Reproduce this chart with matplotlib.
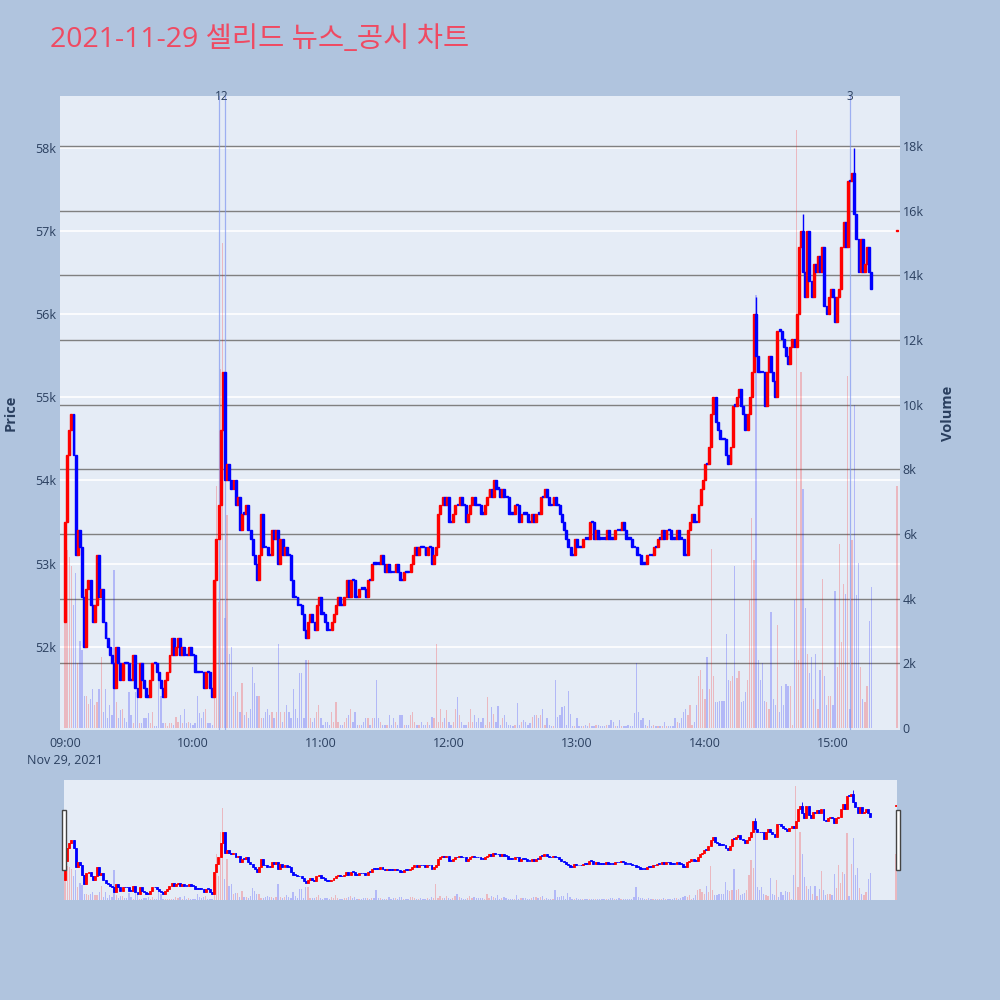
import matplotlib.pyplot as plt
import matplotlib.transforms as mtransforms
from matplotlib.patches import Rectangle
import numpy as np

plt.rcParams['font.family'] = ['Open Sans', 'Noto Sans CJK KR', 'DejaVu Sans']

# ---- data (1-minute candles from 09:00) ----
first_open = 52300
closes = [
    53500, 54300, 54600, 54800, 54300, 53100, 53400, 53200, 52600, 52000,
    52700, 52800, 52500, 52300, 52500, 53100, 52600, 52700, 52300, 52100,
    52000, 51900, 51800, 51500, 52000, 51800, 51600, 51800, 51800, 51800,
    51600, 51600, 51900, 51500, 51400, 51800, 51600, 51500, 51400, 51400,
    51600, 51800, 51800, 51700, 51600, 51500, 51400, 51600, 51700, 51900,
    52100, 51900, 52000, 52100, 51900, 52000, 51900, 51900, 52000, 51900,
    51900, 51700, 51700, 51700, 51700, 51500, 51700, 51700, 51500, 51400,
    52800, 53300, 53700, 54600, 55300, 54000, 54200, 54000, 53900, 54000,
    53700, 53800, 53400, 53600, 53600, 53700, 53400, 53300, 53100, 53000,
    52800, 53100, 53600, 53200, 53200, 53100, 53100, 53400, 53300, 53400,
    53000, 53300, 53100, 53200, 53100, 53100, 52800, 52600, 52600, 52500,
    52500, 52400, 52200, 52100, 52300, 52400, 52300, 52200, 52500, 52600,
    52400, 52400, 52300, 52200, 52200, 52300, 52400, 52500, 52600, 52500,
    52500, 52600, 52800, 52600, 52800, 52800, 52600, 52600, 52700, 52700,
    52700, 52600, 52800, 52800, 53000, 53000, 53000, 53000, 53100, 53000,
    52900, 53000, 52900, 52900, 52900, 53000, 52900, 52800, 52800, 52900,
    52900, 52900, 53000, 53100, 53200, 53100, 53200, 53200, 53200, 53100,
    53200, 53200, 53000, 53100, 53200, 53600, 53700, 53800, 53700, 53800,
    53500, 53500, 53600, 53700, 53700, 53800, 53700, 53700, 53500, 53600,
    53700, 53800, 53700, 53700, 53700, 53600, 53600, 53700, 53800, 53900,
    53800, 54000, 53900, 53900, 53800, 53900, 53800, 53800, 53600, 53600,
    53600, 53700, 53700, 53500, 53600, 53600, 53600, 53500, 53500, 53600,
    53500, 53600, 53600, 53800, 53800, 53900, 53800, 53700, 53700, 53800,
    53700, 53700, 53600, 53500, 53400, 53300, 53200, 53100, 53100, 53300,
    53200, 53200, 53200, 53300, 53300, 53300, 53500, 53500, 53300, 53400,
    53300, 53300, 53300, 53300, 53400, 53300, 53300, 53300, 53400, 53400,
    53400, 53500, 53400, 53300, 53300, 53300, 53200, 53200, 53100, 53100,
    53000, 53000, 53000, 53100, 53100, 53100, 53200, 53200, 53300, 53300,
    53400, 53300, 53400, 53400, 53300, 53300, 53300, 53400, 53300, 53300,
    53100, 53100, 53400, 53500, 53600, 53500, 53500, 53700, 53900, 54000,
    54200, 54200, 54400, 54800, 55000, 54700, 54600, 54500, 54500, 54500,
    54300, 54200, 54400, 54900, 54900, 55000, 55100, 54900, 54800, 54600,
    54800, 55000, 55300, 56000, 55500, 55300, 55300, 55300, 54900, 55300,
    55500, 55300, 55200, 55000, 55800, 55800, 55700, 55600, 55500, 55400,
    55600, 55700, 55600, 56000, 56800, 57000, 56500, 56200, 57000, 56400,
    56200, 56600, 56500, 56700, 56500, 56800, 56100, 56000, 56200, 56300,
    56200, 55900, 56200, 56300, 56800, 57100, 56800, 57600, 57600, 57700,
    57200, 56900, 56500, 56900, 56500, 56600, 56800, 56500, 56300,
]
volumes_k = [
    4.3, 5.5, 5.3, 5.0, 3.8, 4.8, 2.0, 2.7, 2.4, 1.0,
    1.0, 0.75, 0.9, 1.2, 0.7, 0.8, 1.2, 2.2, 0.5, 1.2,
    0.3, 0.7, 0.4, 4.9, 0.8, 0.3, 0.55, 0.6, 0.3, 0.2,
    1.1, 0.4, 0.15, 1.1, 1.0, 0.15, 0.15, 0.3, 0.3, 0.45,
    0.15, 0.5, 0.05, 0.05, 1.5, 1.0, 0.15, 0.15, 0.05, 0.15,
    0.15, 0.1, 0.35, 0.2, 0.4, 0.15, 0.6, 0.15, 0.2, 0.15,
    0.1, 0.15, 1.0, 0.45, 0.3, 0.5, 0.6, 0.15, 0.15, 0.1,
    2.5, 7.5, 3.9, 11.1, 15.0, 3.4, 6.6, 2.3, 2.5, 1.0,
    1.1, 1.1, 0.5, 1.4, 0.4, 0.5, 0.3, 0.6, 1.9, 1.4,
    1.0, 1.0, 0.3, 0.3, 0.5, 0.6, 0.4, 0.5, 0.3, 0.5,
    2.6, 0.5, 0.2, 0.5, 0.7, 0.5, 0.3, 1.2, 0.6, 0.3,
    1.7, 1.7, 0.3, 2.1, 2.1, 0.3, 0.2, 0.3, 0.5, 0.7,
    0.3, 0.1, 0.2, 0.2, 0.1, 0.5, 0.2, 0.8, 0.2, 0.1,
    0.1, 0.2, 0.3, 0.4, 0.6, 0.2, 0.5, 0.1, 0.1, 0.1,
    0.2, 0.3, 0.3, 0.1, 0.3, 0.3, 1.5, 0.3, 0.2, 0.1,
    0.1, 0.1, 0.4, 0.1, 0.3, 0.2, 0.1, 0.4, 0.4, 0.1,
    0.1, 0.1, 0.4, 0.5, 0.2, 0.1, 0.1, 0.2, 0.1, 0.1,
    0.2, 0.1, 0.35, 0.3, 2.6, 0.2, 0.6, 0.2, 0.3, 0.55,
    0.2, 0.1, 0.2, 0.6, 0.95, 0.4, 0.2, 0.1, 0.1, 0.2,
    0.6, 0.2, 0.4, 0.2, 0.3, 0.2, 0.3, 0.1, 0.97, 0.2,
    0.66, 0.43, 0.2, 0.69, 0.1, 0.3, 0.4, 0.2, 0.1, 0.1,
    0.05, 0.1, 0.76, 0.1, 0.2, 0.25, 0.2, 0.1, 0.15, 0.33,
    0.4, 0.4, 0.3, 0.4, 0.6, 0.1, 0.3, 0.1, 0.05, 0.05,
    1.5, 0.35, 0.4, 0.64, 0.67, 0.1, 1.15, 0.43, 0.05, 0.05,
    0.3, 0.05, 0.05, 0.05, 0.1, 0.05, 0.15, 0.05, 0.05, 0.1,
    0.1, 0.05, 0.05, 0.05, 0.1, 0.1, 0.25, 0.2, 0.05, 0.05,
    0.25, 0.05, 0.05, 0.05, 0.1, 0.05, 0.05, 0.45, 2.0, 0.5,
    0.25, 0.3, 0.1, 0.05, 0.25, 0.05, 0.1, 0.05, 0.05, 0.05,
    0.05, 0.2, 0.05, 0.05, 0.05, 0.05, 0.3, 0.2, 0.15, 0.3,
    0.5, 0.6, 0.4, 0.7, 0.1, 0.2, 0.7, 1.6, 1.8, 1.2,
    0.9, 2.2, 1.2, 5.55, 1.6, 0.8, 0.8, 0.85, 0.85, 0.85,
    2.9, 1.5, 1.45, 1.6, 5.0, 1.55, 1.75, 0.8, 0.85, 1.1,
    1.5, 3.96, 6.5, 5.2, 13.4, 2.1, 1.5, 2.0, 0.85, 0.8,
    0.6, 3.6, 0.9, 0.7, 3.2, 0.5, 1.3, 0.7, 1.35, 1.3,
    1.3, 0.1, 3.95, 18.5, 2.1, 11.0, 7.4, 3.7, 2.3, 1.7,
    2.2, 0.9, 2.3, 0.6, 1.8, 4.6, 1.6, 0.7, 1.0, 1.0,
    0.7, 4.25, 1.9, 5.7, 2.65, 4.45, 4.15, 10.9, 0.6, 5.8,
    10.0, 4.1, 5.1, 1.9, 0.9, 0.8, 1.3, 3.3, 4.35,
]
# wick extremes that stick out of the bodies
high_minutes = [324, 346, 370]
high_prices = [56200, 57200, 58000]

# closing auction at 15:30
auction_minute = 390
auction_price = 57000
auction_volume_k = 7.5

# news markers
news_minutes = [72, 75, 368]
news_label_minutes = [73.5, 368]
news_label_texts = ['12', '3']

price_ticks = [52000, 53000, 54000, 55000, 56000, 57000, 58000]
price_labels = ['52k', '53k', '54k', '55k', '56k', '57k', '58k']
vol_ticks = [0, 2000, 4000, 6000, 8000, 10000, 12000, 14000, 16000, 18000]
vol_labels = ['0', '2k', '4k', '6k', '8k', '10k', '12k', '14k', '16k', '18k']
time_ticks = [0, 60, 120, 180, 240, 300, 360]
time_labels = ['09:00\nNov 29, 2021', '10:00', '11:00', '12:00', '13:00', '14:00', '15:00']

title = '2021-11-29 셀리드 뉴스_공시 차트'

# ---- build candles ----
minutes = np.append(np.arange(len(closes)), auction_minute)
c = np.append(np.array(closes, float), auction_price)
o = np.append([first_open], np.array(closes[:-1], float))
o = np.append(o, auction_price - 1)
hi = np.maximum(o, c)
for mm, hp in zip(high_minutes, high_prices):
    hi[mm] = hp
vol = np.append(np.array(volumes_k), auction_volume_k) * 1000
up = c > o
ccol = np.where(up, '#ff0000', '#0000ff')

PRICE_LIM = (51000, 58620)
VOL_LIM = (-62, 19550)
TXT = '#2a3f5f'


def draw(ax_v, ax_p, lw, min_h):
    ax_v.bar(minutes, vol, width=0.6, color=ccol, alpha=0.22, zorder=2)
    ax_p.vlines(minutes, np.minimum(o, c), hi, colors=ccol, lw=lw, zorder=3)
    ax_p.bar(minutes, np.maximum(np.abs(c - o), min_h), bottom=np.minimum(o, c),
             width=0.9, color=ccol, edgecolor=ccol, linewidth=lw, zorder=3)
    ax_v.set_ylim(*VOL_LIM)
    ax_p.set_ylim(*PRICE_LIM)


fig = plt.figure(figsize=(10, 10), dpi=100, facecolor='#b0c4de')

# ---- main chart ----
ax_v = fig.add_axes([0.060, 0.270, 0.840, 0.634])
ax_v.set_facecolor('#e5ecf6')
ax_p = ax_v.twinx()
ax_p.patch.set_visible(False)

blend = mtransforms.blended_transform_factory(ax_v.transAxes, ax_p.transData)
for p in price_ticks:
    ax_v.plot([0, 1], [p, p], color='white', lw=1.2, transform=blend, zorder=0)
for v in vol_ticks[1:]:
    ax_v.axhline(v, color='#808080', lw=1.0, zorder=1)

for nm in news_minutes:
    ax_p.axvline(nm, color='#7f96f0', lw=0.9, alpha=0.7, zorder=2)

draw(ax_v, ax_p, 1.0, 15)
ax_v.set_xlim(-2.34, 391.45)

for a in (ax_v, ax_p):
    for s in a.spines.values():
        s.set_visible(False)

ax_v.yaxis.tick_right()
ax_v.yaxis.set_label_position('right')
ax_v.set_yticks(vol_ticks)
ax_v.set_yticklabels(vol_labels)
ax_p.yaxis.tick_left()
ax_p.yaxis.set_label_position('left')
ax_p.set_yticks(price_ticks)
ax_p.set_yticklabels(price_labels)
ax_v.set_xticks(time_ticks)
ax_v.set_xticklabels(time_labels, linespacing=1.45)
for lab in ax_v.get_xticklabels():
    lab.set_verticalalignment('top')
ax_v.tick_params(axis='x', length=0, pad=5, labelsize=9, labelcolor=TXT)
ax_v.tick_params(axis='y', length=0, pad=2, labelsize=9, labelcolor=TXT)
ax_p.tick_params(axis='y', length=0, pad=3, labelsize=9, labelcolor=TXT)
ax_p.set_ylabel('Price', fontsize=10.5, fontweight='bold', color=TXT, labelpad=12)
ax_v.set_ylabel('Volume', fontsize=10.5, fontweight='bold', color=TXT, labelpad=12)

for xm, txt in zip(news_label_minutes, news_label_texts):
    ax_p.text(xm, 1.0, txt, transform=mtransforms.blended_transform_factory(ax_p.transData, ax_p.transAxes),
              ha='center', va='center', fontsize=8.5, color=TXT)

fig.text(0.050, 0.960, title, fontsize=20.5, color='#ef4a62', ha='left', va='center')

# ---- range slider ----
sv = fig.add_axes([0.064, 0.100, 0.833, 0.120])
sv.set_facecolor('#e5ecf6')
sp = sv.twinx()
sp.patch.set_visible(False)
draw(sv, sp, 0.6, 40)
sv.set_xlim(-0.5, 390.5)
for a in (sv, sp):
    a.set_xticks([])
    a.set_yticks([])
    for s in a.spines.values():
        s.set_visible(False)

for hx in (0.0615, 0.8955):
    fig.patches.append(Rectangle((hx, 0.130), 0.004, 0.060, transform=fig.transFigure,
                                 facecolor='white', edgecolor='#444444', lw=1.0))

fig.savefig('out.png', dpi=100, facecolor=fig.get_facecolor())
